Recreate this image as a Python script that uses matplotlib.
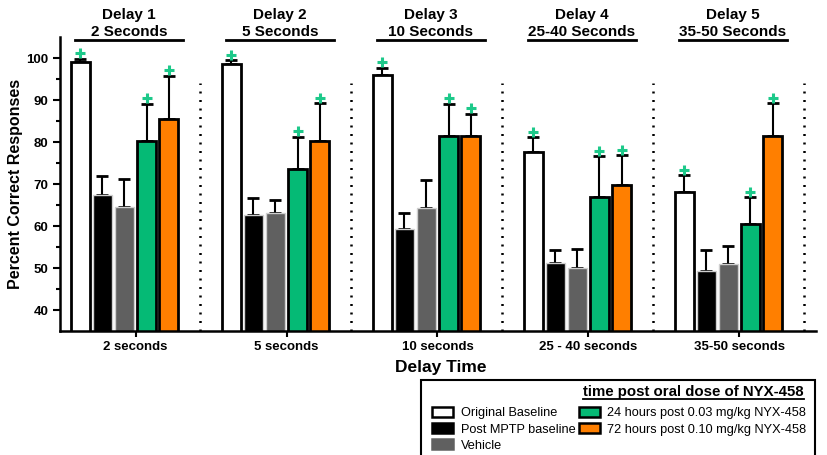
import numpy as np
import matplotlib.pyplot as plt
from matplotlib.patches import Patch, Rectangle
from matplotlib.transforms import blended_transform_factory

plt.rcParams['font.family'] = ['Liberation Sans', 'DejaVu Sans']

groups = ['2 seconds', '5 seconds', '10 seconds', '25 - 40 seconds', '35-50 seconds']
titles = ['Delay 1', 'Delay 2', 'Delay 3', 'Delay 4', 'Delay 5']
subtitles = ['2 Seconds', '5 Seconds', '10 Seconds', '25-40 Seconds', '35-50 Seconds']

series = ['Original Baseline', 'Post MPTP baseline', 'Vehicle',
          '24 hours post 0.03 mg/kg NYX-458', '72 hours post 0.10 mg/kg NYX-458']
means = [
    [99.0, 98.5, 96.0, 77.6, 68.1],
    [67.4, 62.6, 59.2, 51.2, 49.4],
    [64.5, 63.1, 64.4, 50.1, 50.9],
    [80.3, 73.6, 81.5, 66.9, 60.4],
    [85.6, 80.3, 81.4, 69.7, 81.5],
]
err_top = [
    [99.8, 99.5, 97.7, 81.1, 72.1],
    [72.0, 66.6, 63.2, 54.3, 54.3],
    [71.2, 66.2, 71.0, 54.5, 55.3],
    [89.1, 81.3, 89.1, 76.6, 66.9],
    [95.8, 89.3, 86.7, 76.8, 89.3],
]
sig = [True, False, False, True, True]  # '+' marks

colors = ['white', 'black', '#606060', '#05BA75', '#FF7F00']
edges = ['black', '#cfcfcf', '#cfcfcf', 'black', 'black']
lws = [2, 1, 1, 2, 2]

fig = plt.figure(figsize=(8.28, 4.55), dpi=100)
ax = fig.add_axes([0.0725, 0.2725, 0.913, 0.646])

x = np.arange(len(groups))
step = 0.146
bw = 0.13
for i in range(len(series)):
    xi = x + (i - 2) * step
    m = np.array(means[i])
    e = np.array(err_top[i]) - m
    ax.bar(xi, m - 30, bottom=30, width=bw, color=colors[i], edgecolor=edges[i],
           linewidth=lws[i], zorder=2)
    ax.errorbar(xi, m, yerr=[np.zeros_like(e), e], fmt='none', ecolor='black',
                elinewidth=1.5, capsize=4, capthick=2, zorder=1)
    if sig[i]:
        ax.plot(xi, np.array(err_top[i]) + 1.3, '+', color='#1DC98A', ms=7, mew=2.2,
                clip_on=False, zorder=3)

for k in range(len(groups)):
    ax.plot([k + 0.5, k + 0.5], [35, 94], color='black', lw=1.8,
            linestyle=(0, (0.8, 2.6)), zorder=1)

ax.set_xlim(-0.427, 4.58)
ax.set_ylim(35, 105)
ax.set_xticks(x + 0.073)
ax.set_xticklabels(groups, fontsize=9.5, fontweight='bold')
ax.set_yticks(np.arange(40, 101, 10))
ax.set_yticks(np.arange(45, 105, 10), minor=True)
ax.tick_params(axis='y', labelsize=9.5, width=1.5, length=5)
ax.tick_params(axis='y', which='minor', width=1.5, length=3)
ax.tick_params(axis='x', width=1.5, length=4)
for t in ax.get_yticklabels():
    t.set_fontweight('bold')
for s in ['top', 'right']:
    ax.spines[s].set_visible(False)
for s in ['left', 'bottom']:
    ax.spines[s].set_linewidth(1.8)
ax.set_ylabel('Percent Correct Responses', fontsize=11.5, fontweight='bold', labelpad=2)
fig.text(0.532, 0.192, 'Delay Time', ha='center', va='center', fontsize=12.5, fontweight='bold')

tr = blended_transform_factory(ax.transData, fig.transFigure)
for k in range(len(groups)):
    cx = k + 0.03
    ax.text(cx, 0.967, titles[k], transform=tr, ha='center', va='center',
            fontsize=11, fontweight='bold')
    ax.text(cx, 0.929, subtitles[k], transform=tr, ha='center', va='center',
            fontsize=11, fontweight='bold')
    ax.plot([cx - 0.36, cx + 0.36], [0.911, 0.911], color='black', lw=2,
            transform=tr, clip_on=False)

# legend box
fig.patches.append(Rectangle((0.5085, -0.01), 0.476, 0.175, transform=fig.transFigure,
                             fill=False, edgecolor='black', linewidth=1.5))
fig.text(0.971, 0.139, 'time post oral dose of NYX-458', ha='right', va='center',
         fontsize=10.8, fontweight='bold')
fig.add_artist(plt.Line2D([0.704, 0.971], [0.124, 0.124], color='black', lw=1.3,
                          transform=fig.transFigure))
handles = [Patch(facecolor=colors[i], edgecolor='black' if i in (0, 3, 4) else colors[i],
                 linewidth=1.8) for i in range(len(series))]
fig.legend(handles, series, loc='upper left', bbox_to_anchor=(0.513, 0.122), ncol=2,
           frameon=False, fontsize=9.2, handlelength=1.6, handleheight=0.8,
           handletextpad=0.6, columnspacing=0.3, labelspacing=0.3, borderpad=0.1)

fig.savefig('out.png', dpi=100)
